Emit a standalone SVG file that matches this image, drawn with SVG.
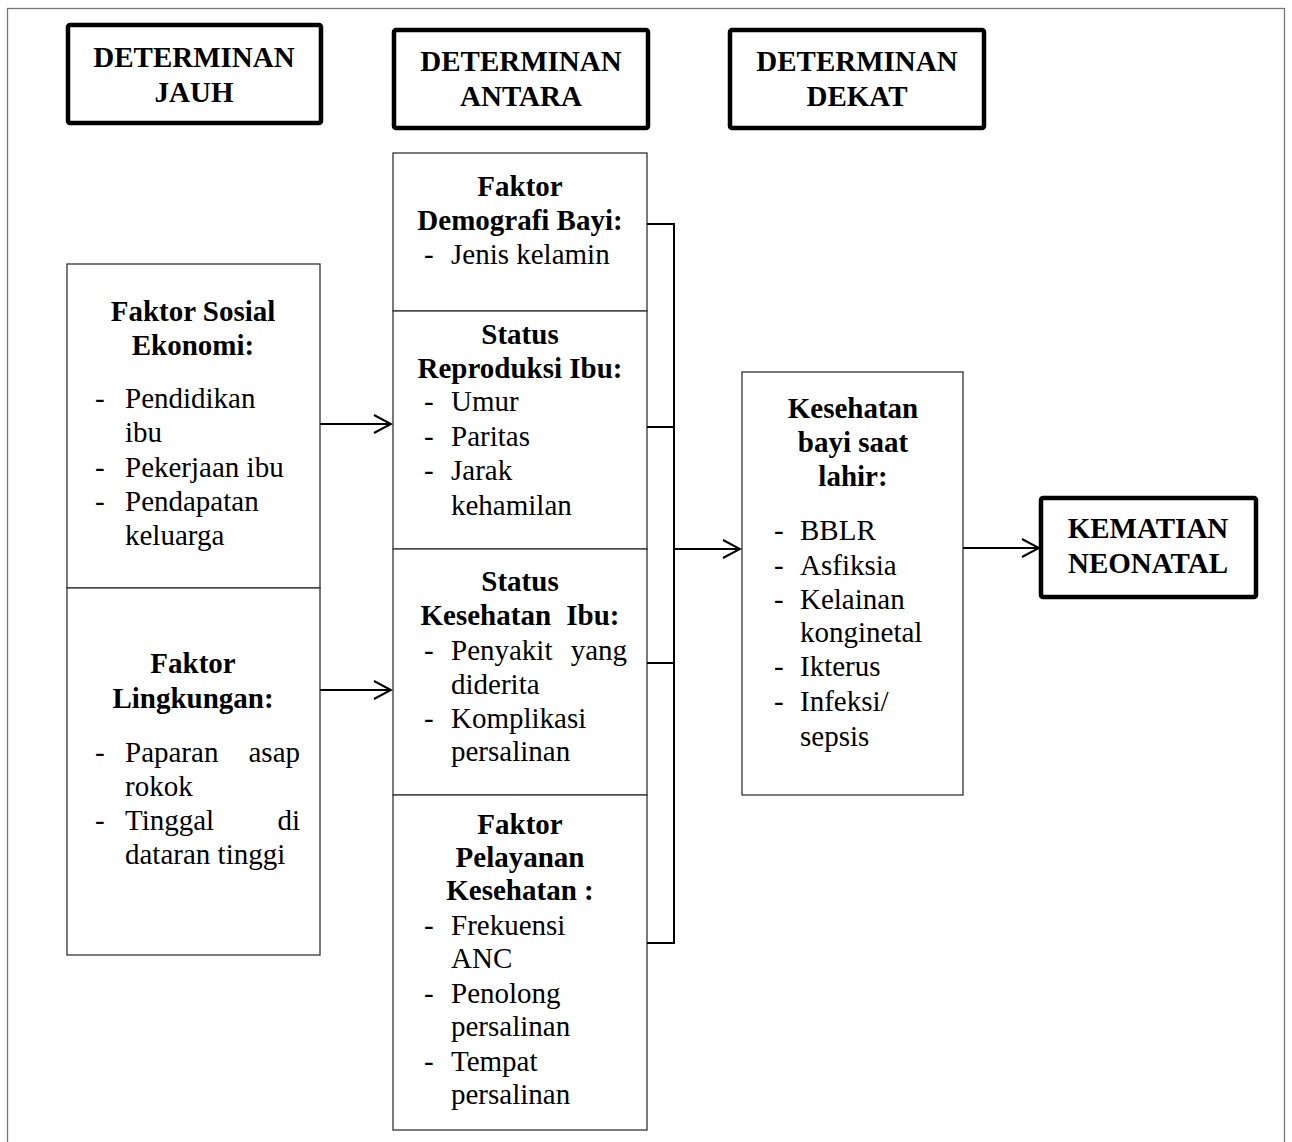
<svg xmlns="http://www.w3.org/2000/svg" width="1292" height="1142" viewBox="0 0 1292 1142">
<defs>
<style>
.t{font-family:"Liberation Serif","Times New Roman",serif;font-size:29px;fill:#000}
.b{font-weight:bold}
.c{text-anchor:middle}
.h{font-family:"Liberation Serif","Times New Roman",serif;font-size:29px;font-weight:bold;text-anchor:middle;fill:#000}
.box{fill:#fff;stroke:#333;stroke-width:1.3}
.hbox{fill:#fff;stroke:#000;stroke-width:4.5}
.ln{fill:none;stroke:#000;stroke-width:2}
</style>
<marker id="arr" viewBox="0 0 20 20" refX="18" refY="10" markerWidth="20" markerHeight="20" markerUnits="userSpaceOnUse" orient="auto">
<path d="M1,1 L18,10 L1,19" fill="none" stroke="#000" stroke-width="2"/>
</marker>
</defs>
<rect width="1292" height="1142" fill="#fff"/>
<rect x="7.5" y="8.5" width="1277" height="1150" fill="none" stroke="#777" stroke-width="1.3"/>

<g id="h-jauh"><rect class="hbox" x="68" y="25" width="253" height="98" rx="2"/>
<text class="h" x="194" y="67">DETERMINAN</text><text class="h" x="194" y="102">JAUH</text></g>
<g id="h-antara"><rect class="hbox" x="394" y="30" width="254" height="98" rx="2"/>
<text class="h" x="521" y="71">DETERMINAN</text><text class="h" x="521" y="106">ANTARA</text></g>
<g id="h-dekat"><rect class="hbox" x="730" y="30" width="254" height="98" rx="2"/>
<text class="h" x="857" y="71">DETERMINAN</text><text class="h" x="857" y="106">DEKAT</text></g>

<g id="sosial"><rect class="box" x="67" y="264" width="253" height="324"/>
<text class="t b c" x="193" y="321">Faktor Sosial</text>
<text class="t b c" x="193" y="355">Ekonomi:</text>
<text class="t" x="95" y="408">-</text><text class="t" x="125" y="408">Pendidikan</text>
<text class="t" x="125" y="442">ibu</text>
<text class="t" x="95" y="477">-</text><text class="t" x="125" y="477">Pekerjaan ibu</text>
<text class="t" x="95" y="511">-</text><text class="t" x="125" y="511">Pendapatan</text>
<text class="t" x="125" y="545">keluarga</text>
</g>
<g id="lingkungan"><rect class="box" x="67" y="588" width="253" height="367"/>
<text class="t b c" x="193" y="673">Faktor</text>
<text class="t b c" x="193" y="708">Lingkungan:</text>
<text class="t" x="95" y="762">-</text><text class="t" x="125" y="762">Paparan<tspan x="300" text-anchor="end">asap</tspan></text>
<text class="t" x="125" y="796">rokok</text>
<text class="t" x="95" y="830">-</text><text class="t" x="125" y="830">Tinggal<tspan x="300" text-anchor="end">di</tspan></text>
<text class="t" x="125" y="864">dataran tinggi</text>
</g>

<g id="demografi"><rect class="box" x="393" y="153" width="254" height="158"/>
<text class="t b c" x="520" y="196">Faktor</text>
<text class="t b c" x="520" y="230">Demografi Bayi:</text>
<text class="t" x="424" y="264">-</text><text class="t" x="451" y="264">Jenis kelamin</text>
</g>
<g id="reproduksi"><rect class="box" x="393" y="311" width="254" height="238"/>
<text class="t b c" x="520" y="344">Status</text>
<text class="t b c" x="520" y="378">Reproduksi Ibu:</text>
<text class="t" x="424" y="411">-</text><text class="t" x="451" y="411">Umur</text>
<text class="t" x="424" y="446">-</text><text class="t" x="451" y="446">Paritas</text>
<text class="t" x="424" y="480">-</text><text class="t" x="451" y="480">Jarak</text>
<text class="t" x="451" y="515">kehamilan</text>
</g>
<g id="kesehatan-ibu"><rect class="box" x="393" y="549" width="254" height="246"/>
<text class="t b c" x="520" y="591">Status</text>
<text class="t b c" x="520" y="625" word-spacing="8">Kesehatan Ibu:</text>
<text class="t" x="424" y="660">-</text><text class="t" x="451" y="660">Penyakit<tspan x="627" text-anchor="end">yang</tspan></text>
<text class="t" x="451" y="694">diderita</text>
<text class="t" x="424" y="728">-</text><text class="t" x="451" y="728">Komplikasi</text>
<text class="t" x="451" y="761">persalinan</text>
</g>
<g id="pelayanan"><rect class="box" x="393" y="795" width="254" height="335"/>
<text class="t b c" x="520" y="834">Faktor</text>
<text class="t b c" x="520" y="867">Pelayanan</text>
<text class="t b c" x="520" y="900">Kesehatan :</text>
<text class="t" x="424" y="935">-</text><text class="t" x="451" y="935">Frekuensi</text>
<text class="t" x="451" y="968">ANC</text>
<text class="t" x="424" y="1003">-</text><text class="t" x="451" y="1003">Penolong</text>
<text class="t" x="451" y="1036">persalinan</text>
<text class="t" x="424" y="1071">-</text><text class="t" x="451" y="1071">Tempat</text>
<text class="t" x="451" y="1104">persalinan</text>
</g>

<g id="kesehatan-bayi"><rect class="box" x="742" y="372" width="221" height="423"/>
<text class="t b c" x="853" y="418">Kesehatan</text>
<text class="t b c" x="853" y="452">bayi saat</text>
<text class="t b c" x="853" y="486">lahir:</text>
<text class="t" x="774" y="540">-</text><text class="t" x="800" y="540">BBLR</text>
<text class="t" x="774" y="575">-</text><text class="t" x="800" y="575">Asfiksia</text>
<text class="t" x="774" y="609">-</text><text class="t" x="800" y="609">Kelainan</text>
<text class="t" x="800" y="642">konginetal</text>
<text class="t" x="774" y="676">-</text><text class="t" x="800" y="676">Ikterus</text>
<text class="t" x="774" y="711">-</text><text class="t" x="800" y="711">Infeksi/</text>
<text class="t" x="800" y="746">sepsis</text>
</g>

<g id="kematian"><rect class="hbox" x="1041" y="498" width="215" height="99" rx="2"/>
<text class="h" x="1148" y="538">KEMATIAN</text><text class="h" x="1148" y="573">NEONATAL</text></g>

<g id="connectors">
<path class="ln" d="M320,424 H391" marker-end="url(#arr)"/>
<path class="ln" d="M320,690 H391" marker-end="url(#arr)"/>
<path class="ln" d="M647,224 H674 M647,427 H674 M647,663 H674 M647,943 H674"/>
<path class="ln" d="M674,223 V944"/>
<path class="ln" d="M674,549 H740" marker-end="url(#arr)"/>
<path class="ln" d="M963,548 H1039" marker-end="url(#arr)"/>
</g>
</svg>
